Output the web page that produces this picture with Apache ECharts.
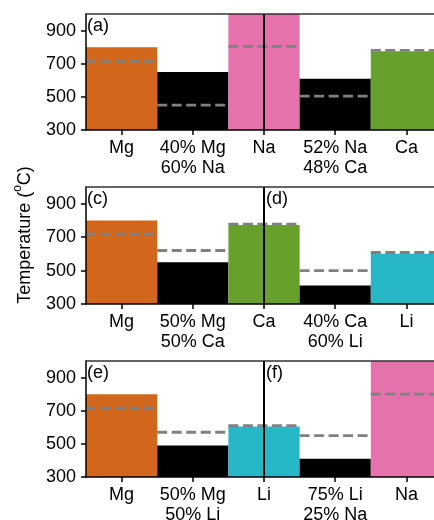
<!DOCTYPE html>
<html lang="en">
<head>
    <meta charset="UTF-8">
    <script src="https://cdn.jsdelivr.net/npm/echarts@6/dist/echarts.min.js"></script>
    <title>Melting temperatures</title>
    <style>
        body { margin: 0; background: #fff; }
        #main { width: 434px; height: 520px; }
    </style>
</head>
<body>
<div id="main"></div>
<script type="text/javascript">
    // panel (a)/(b)
    var cats1 = ['Mg', '40% Mg\n60% Na', 'Na', '52% Na\n48% Ca', 'Ca'];
    var bars1 = [800, 650, 1000, 610, 775];   // Na runs past the top
    var dash1 = [715, 450, 805, 505, 780];
    // panel (c)/(d)
    var cats2 = ['Mg', '50% Mg\n50% Ca', 'Ca', '40% Ca\n60% Li', 'Li'];
    var bars2 = [800, 550, 772, 410, 600];
    var dash2 = [718, 620, 778, 500, 608];
    // panel (e)/(f)
    var cats3 = ['Mg', '50% Mg\n50% Li', 'Li', '75% Li\n25% Na', 'Na'];
    var bars3 = [800, 490, 605, 410, 1000];   // Na runs past the top
    var dash3 = [715, 570, 610, 550, 800];

    var yTicks = [300, 500, 700, 900];
    var panelTags = [['(a)', '(b)'], ['(c)', '(d)'], ['(e)', '(f)']];

    var elemColor = { Mg: '#d2661a', Na: '#e672ac', Ca: '#67a02b', Li: '#26b8c7' };
    var FONT = 'Liberation Sans, Arial, sans-serif';

    var panels = [
        { cats: cats1, bars: bars1, dash: dash1, top: 14, height: 116 },
        { cats: cats2, bars: bars2, dash: dash2, top: 187, height: 117 },
        { cats: cats3, bars: bars3, dash: dash3, top: 361, height: 116 }
    ];

    var grids = [], xAxes = [], yAxes = [], series = [], graphics = [];

    panels.forEach(function (p, i) {
        grids.push({ left: 86, width: 356, top: p.top, height: p.height, outerBoundsMode: 'none' });

        // bottom axis with labels
        xAxes.push({
            gridIndex: i, type: 'category', data: p.cats, z: 5,
            axisLine: { lineStyle: { color: '#000', width: 1.5 } },
            axisTick: { show: true, interval: 0, alignWithLabel: true, length: 5, lineStyle: { color: '#000', width: 1.5 } },
            axisLabel: { interval: 0, color: '#000', fontSize: 18, lineHeight: 20, margin: 8, fontFamily: FONT }
        });
        // top frame line
        xAxes.push({
            gridIndex: i, type: 'category', data: p.cats, position: 'top', z: 5,
            axisLine: { lineStyle: { color: '#333', width: 1.5 } },
            axisTick: { show: false }, axisLabel: { show: false }
        });
        yAxes.push({
            gridIndex: i, type: 'value', min: 300, max: 1000, z: 5,
            splitLine: { show: false },
            axisLine: { show: true, lineStyle: { color: '#000', width: 1.5 } },
            axisTick: { show: true, customValues: yTicks, length: 5, lineStyle: { color: '#000', width: 1.5 } },
            axisLabel: { customValues: yTicks, color: '#000', fontSize: 18, margin: 10, fontFamily: FONT }
        });

        series.push({
            type: 'bar', xAxisIndex: i * 2, yAxisIndex: i, z: 1,
            barCategoryGap: 0, clip: true,
            data: p.bars.map(function (v, k) {
                return { value: v, itemStyle: { color: elemColor[p.cats[k]] || '#000' } };
            })
        });

        series.push({
            type: 'custom', xAxisIndex: i * 2, yAxisIndex: i, z: 2,
            data: p.dash.map(function (v, k) { return [k, v]; }),
            renderItem: function (params, api) {
                var c = api.coord([api.value(0), api.value(1)]);
                var w = api.size([1, 0])[0];
                return {
                    type: 'line',
                    shape: { x1: c[0] - w / 2, y1: c[1], x2: c[0] + w / 2, y2: c[1] },
                    style: { stroke: '#808080', lineWidth: 2.8, lineDash: [10, 4.5] }
                };
            }
        });

        // vertical divider through the middle element
        series.push({
            type: 'line', xAxisIndex: i * 2, yAxisIndex: i, z: 3, data: [],
            markLine: {
                silent: true, symbol: 'none', label: { show: false },
                lineStyle: { color: '#000', width: 2, type: 'solid' },
                data: [{ xAxis: p.cats[2] }]
            }
        });

        graphics.push({
            type: 'text', left: 87, top: p.top + 3,
            style: { text: panelTags[i][0], font: '18px ' + FONT, fill: '#000' }
        });
        graphics.push({
            type: 'text', left: 266, top: p.top + 3,
            style: { text: panelTags[i][1], font: '18px ' + FONT, fill: '#000' }
        });
    });

    graphics.push({
        type: 'text', x: 23, y: 235, rotation: Math.PI / 2,
        style: {
            text: '{a|Temperature (}{s|o}{a|C)}',
            align: 'center', verticalAlign: 'middle',
            rich: {
                a: { fontSize: 18, fontFamily: FONT, fill: '#000', lineHeight: 22, verticalAlign: 'bottom' },
                s: { fontSize: 12, fontFamily: FONT, fill: '#000', lineHeight: 22, verticalAlign: 'top' }
            }
        }
    });

    var myChart = echarts.init(document.getElementById('main'));
    myChart.setOption({
        animation: false,
        grid: grids,
        xAxis: xAxes,
        yAxis: yAxes,
        series: series,
        graphic: graphics
    });
</script>
</body>
</html>
